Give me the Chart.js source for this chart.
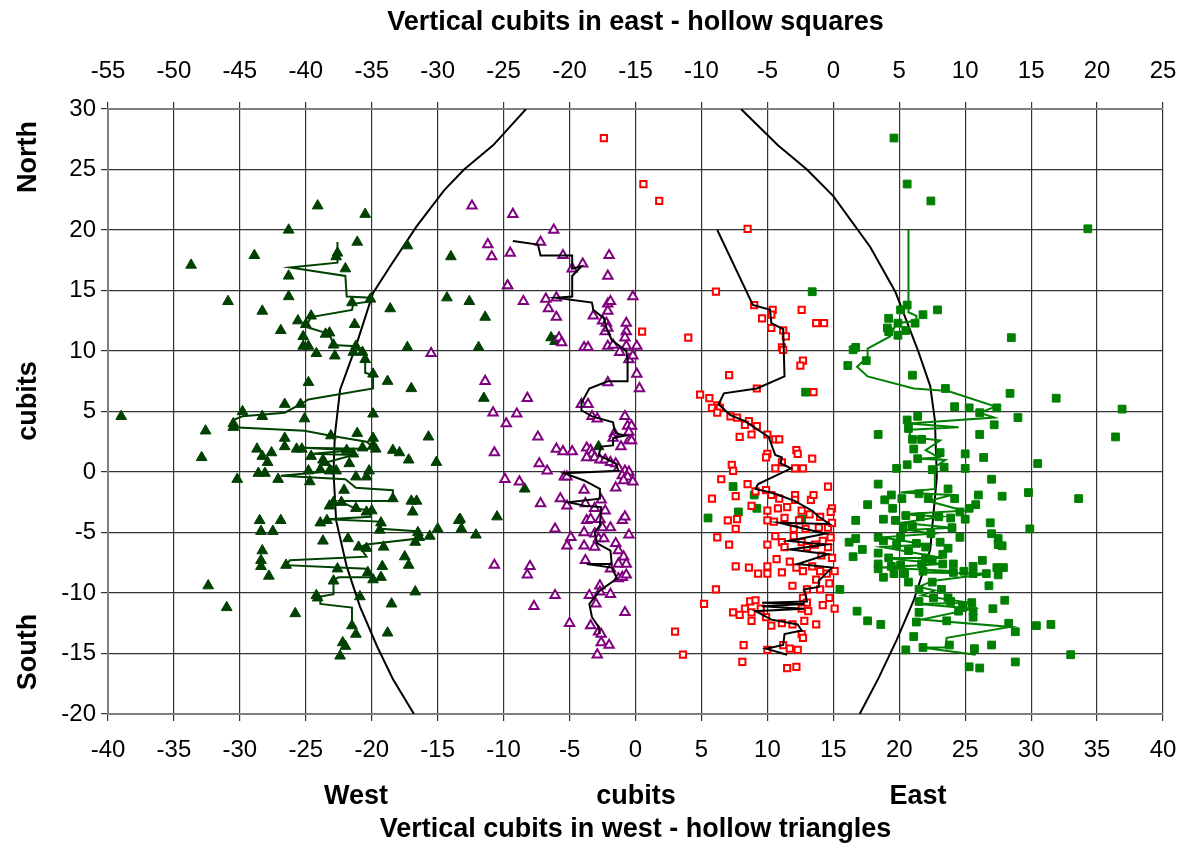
<!DOCTYPE html>
<html><head><meta charset="utf-8">
<script src="https://cdn.jsdelivr.net/npm/chart.js@4.4.1/dist/chart.umd.min.js"></script>
<style>html,body{margin:0;padding:0;background:#fff}#wrap{width:1184px;height:848px}</style>
</head><body><div id="wrap"><canvas id="c" width="1184" height="848"></canvas></div>
<script>
// ---------------- DATA ----------------
// Axis ranges / tick labels
const westAxisRange = [-40, 40];   // bottom axis (hollow triangles)
const eastAxisRange = [-55, 25];   // top axis (hollow squares)
const northSouthRange = [-20, 30];
const tickStep = 5;
const sideLabels = ['North', 'cubits', 'South'];
const bottomWords = ['West', 'cubits', 'East'];
const topTitle = 'Vertical cubits in east - hollow squares';
const bottomTitle = 'Vertical cubits in west - hollow triangles';

// Filled dark-green triangles (bottom axis x, y)
const westFilled = [
[-24.1,22.0],[-20.5,21.3],[-26.3,20.0],[-21.1,19.0],[-22.6,18.1],[-22.7,17.8],[-28.9,17.9],[-33.7,17.1],[-17.3,18.7],[-14.0,17.8],
[-22.0,16.8],[-26.3,16.2],[-26.3,14.5],[-30.9,14.1],[-20.1,14.3],[-14.3,14.4],[-28.3,13.3],[-21.5,14.0],[-18.6,13.5],[-24.6,12.9],
[-25.6,12.5],[-25.0,12.2],[-26.9,11.7],[-21.3,12.2],[-23.5,11.4],[-23.2,11.5],[-25.2,11.2],[-25.2,10.4],[-24.8,10.4],[-22.9,10.5],
[-24.2,9.8],[-22.8,9.6],[-21.2,10.4],[-21.4,9.9],[-20.7,9.9],[-20.5,9.3],[-17.3,10.3],[-19.9,8.1],[-18.8,7.5],[-17.0,6.9],
[-24.8,7.4],[-26.6,5.6],[-25.4,5.6],[-39.0,4.6],[-29.8,5.0],[-28.3,4.6],[-25.1,4.4],[-19.9,4.8],[-30.5,4.0],[-30.5,3.7],
[-32.6,3.4],[-23.1,3.0],[-21.1,3.2],[-15.7,2.9],[-26.6,2.8],[-19.9,2.8],
[-19.9,2.2],[-19.7,1.9],[-28.7,1.9],[-27.6,1.6],[-28.3,1.3],[-27.9,0.8],[-32.9,1.2],[-26.6,2.1],[-25.7,1.9],[-25.3,1.9],
[-24.6,1.3],[-23.7,1.0],[-23.6,0.8],[-21.9,1.8],[-21.4,1.5],[-21.7,0.7],[-20.7,2.0],[-18.4,1.8],[-17.9,1.6],[-17.2,1.0],
[-15.1,0.8],[-28.6,-0.1],[-28.1,-0.1],[-30.2,-0.6],[-27.1,-0.6],[-24.8,0.1],[-24.7,-0.8],[-23.9,0.2],[-23.2,0.1],[-22.7,0.1],
[-21.2,-0.4],[-20.2,0.1],[-20.4,-0.4],[-22.1,-1.5],[-18.4,-2.2],[-17.0,-2.4],[-16.6,-2.4],[-16.9,-3.3],[-23.2,-2.8],[-22.9,-2.5],
[-22.3,-2.5],[-21.2,-3.0],[-20.4,-3.3],[-20.0,-3.2],[-28.5,-4.0],[-28.4,-4.9],[-26.9,-4.0],[-27.5,-4.9],[-23.9,-4.2],[-23.4,-4.0],
[-19.3,-4.2],[-19.4,-4.8],[-16.5,-5.0],[-16.4,-5.4],[-16.7,-5.8],[-15.6,-5.3],[-15.0,-4.7],[-13.4,-4.0],[-23.7,-5.7],[-21.8,-5.5],
[-21.0,-6.2],[-20.4,-6.3],[-19.1,-6.2],[-28.3,-6.5],[-28.4,-7.3],[-28.4,-7.8],[-27.8,-8.6],[-26.5,-7.7],[-22.6,-8.0],[-19.2,-7.8],
[-17.5,-7.0],[-17.2,-7.7],[-20.3,-8.3],[-19.9,-8.9],[-19.3,-8.7],[-22.9,-9.0],[-32.4,-9.4],[-31.0,-11.2],[-25.8,-11.7],[-24.2,-10.2],
[-24.1,-10.4],[-20.9,-10.3],[-18.5,-10.9],[-16.7,-9.9],[-21.5,-12.7],[-21.2,-13.4],[-18.8,-13.3],[-22.2,-14.1],[-22.0,-14.4],[-22.4,-15.2],
[-12.6,14.1],[-11.4,12.8],[-11.9,10.3],[-11.5,6.1],[-9.7,15.4],[-6.4,11.1],[-6.1,10.8],[-8.4,-1.4],[-13.3,-3.9],[-10.5,-3.7],
[-13.2,-4.7],[-12.1,-5.2],[-2.8,2.1]
];
const westFilledTrend = [
[-22.6,19.0],[-22.6,17.3],[-26.2,16.9],[-22.0,16.2],[-21.9,14.5],[-20.1,14.4],[-20.1,14.1],[-21.4,13.9],[-21.5,13.4],[-24.6,12.8],
[-25.0,12.0],[-23.5,11.5],[-23.2,11.4],[-22.9,10.5],[-21.2,10.4],[-20.5,9.6],[-20.5,8.2],[-19.9,8.0],[-19.9,6.9],[-24.8,6.0],
[-25.4,5.6],[-26.6,4.9],[-29.8,4.6],[-30.5,4.3],[-30.5,3.7],[-25.1,3.4],[-23.1,3.0],[-20.4,2.5],[-19.7,1.9],[-25.3,2.0],
[-21.4,1.8],[-24.5,1.5],[-21.4,1.4],[-23.4,0.8],[-22.7,0.1],[-26.9,-0.3],[-22.0,-0.6],[-21.2,-1.3],[-18.4,-1.5],[-18.4,-2.4],
[-22.4,-2.4],[-21.3,-3.0],[-20.0,-3.2],[-20.1,-3.7],[-23.4,-3.9],[-19.4,-4.1],[-19.3,-4.7],[-16.6,-4.9],[-16.5,-5.5],[-20.4,-6.0],
[-20.9,-6.2],[-20.4,-7.0],[-26.2,-7.3],[-26.5,-7.7],[-20.4,-8.0],[-20.0,-8.7],[-22.5,-8.7],[-22.9,-8.9],[-22.9,-10.1],[-23.9,-10.3],
[-23.9,-10.9],[-21.5,-11.2],[-21.5,-12.7]
];

// Hollow purple triangles (bottom axis x, y)
const westHollow = [
[-12.4,22.0],[-9.3,21.3],[-6.2,20.0],[-11.2,18.8],[-10.9,17.8],[-9.5,18.1],[-7.2,19.0],[-5.5,17.9],[-4.8,16.8],[-4.0,17.2],
[-2.0,17.9],[-2.1,16.2],[-9.7,15.4],[-8.5,14.1],[-6.8,14.3],[-6.0,14.4],[-6.6,13.5],[-6.0,12.8],[-3.2,12.9],[-2.1,13.9],
[-1.9,14.1],[-2.1,13.3],[-0.2,14.5],[-2.5,12.5],[-2.2,12.3],[-2.3,11.6],[-2.1,11.9],[-0.7,12.3],[-0.7,11.6],[-0.8,11.1],
[-5.8,11.1],[-5.6,10.7],[-3.9,10.3],[-3.6,10.3],[-2.1,10.4],[-1.7,10.5],[-0.7,10.4],[0.1,10.4],[-1.2,9.9],[-0.5,9.3],
[-0.2,9.6],[-15.5,9.8],[0.1,8.1],[0.3,6.9],[-2.1,7.4],[-11.4,7.5],[-8.2,6.1],[-10.8,4.9],[-9.0,4.8],[-9.8,4.0],
[-4.1,5.6],[-3.6,5.6],[-3.3,4.6],[-2.9,4.4],[-0.8,4.6],[-0.6,3.8],[-0.3,3.8],
[-7.4,2.9],[-10.7,1.6],[-1.6,3.2],[-1.7,2.8],[-0.5,3.3],[-0.5,2.6],[-0.3,2.6],[-1.1,2.1],[-6.0,1.9],[-5.5,1.7],
[-4.8,1.7],[-3.7,2.0],[-3.4,1.8],[-3.3,1.5],[-3.7,1.2],[-3.1,1.2],[-2.7,1.0],[-2.3,1.0],[-1.9,0.8],[-1.5,0.7],
[-1.3,0.3],[-0.8,0.1],[-0.5,0.0],[-1.0,-0.3],[-0.6,-0.4],[-0.2,-0.8],[-0.9,-0.7],[-7.3,0.7],[-6.7,0.1],[-5.4,-0.4],
[-5.2,-0.4],[-9.9,-0.6],[-8.8,-0.8],[-3.9,-1.5],[-1.5,-1.3],[-2.6,-2.3],[-5.7,-2.2],[-7.2,-2.6],[-5.2,-2.8],[-3.8,-2.6],
[-3.1,-3.0],[-2.3,-3.2],[-2.7,-3.9],[-3.7,-4.0],[-3.4,-3.9],[-1.0,-4.0],[-0.8,-3.7],[-2.5,-4.6],[-1.9,-4.6],[-3.9,-5.0],
[-3.1,-5.1],[-2.8,-5.5],[-2.4,-5.5],[-3.1,-6.2],[-3.9,-6.1],[-0.5,-5.2],[-1.5,-5.9],[-1.3,-6.5],[-0.9,-7.0],[-0.7,-7.6],
[-1.3,-7.6],[-1.9,-8.0],[-3.8,-7.3],[-6.1,-4.7],[-4.9,-5.4],[-5.2,-6.1],[-1.3,-8.8],[-1.0,-8.7],[-0.7,-8.5],[-2.7,-9.4],
[-2.7,-9.9],[-1.9,-10.1],[-3.5,-10.2],[-3.0,-10.9],[-0.8,-11.6],[-10.7,-7.7],[-8.0,-7.8],[-8.2,-8.5],[-6.1,-10.2],[-7.7,-11.1],
[-5.0,-12.5],[-3.4,-12.7],[-2.8,-13.2],[-2.6,-13.4],[-2.6,-14.1],[-2.0,-14.3],[-2.9,-15.1]
];
const westHollowTrend = [
[-9.3,19.1],[-7.4,18.8],[-7.2,17.9],[-4.8,17.9],[-4.8,16.8],[-4.1,17.0],[-4.8,16.2],[-4.8,14.5],[-6.0,14.4],[-3.3,14.0],
[-3.2,13.4],[-2.4,12.7],[-2.2,11.9],[-1.8,10.9],[-1.3,10.5],[-0.7,10.0],[-0.6,9.3],[-0.6,7.5],[-2.1,7.5],[-3.5,6.9],
[-4.1,5.7],[-4.1,5.1],[-3.3,4.6],[-1.7,4.1],[-1.6,3.5],[-1.5,3.2],[-0.8,3.0],[-1.7,2.8],[-1.7,2.2],[-2.6,2.1],
[-2.8,1.4],[-1.5,0.7],[-1.3,0.1],[-5.4,-0.1],[-3.9,-0.7],[-2.7,-1.4],[-2.7,-2.2],[-5.1,-2.5],[-3.8,-2.8],[-2.6,-2.9],
[-2.7,-4.4],[-3.1,-5.0],[-2.9,-5.9],[-1.9,-6.5],[-1.8,-7.6],[-3.7,-7.6],[-1.8,-7.9],[-1.4,-8.8],[-2.7,-9.8],[-3.5,-10.9],
[-3.3,-12.0],[-2.8,-12.8],[-2.7,-13.4]
];

// Hollow red squares (top axis x, y)
const eastHollow = [
[-17.4,27.6],[-14.4,23.8],[-13.2,22.4],[-6.5,20.1],[-8.9,14.9],[-14.5,11.6],[-11.0,11.1],[-6.0,13.8],[-4.6,13.4],[-4.7,13.0],
[-5.4,12.7],[-4.7,11.9],[-2.4,13.4],[-1.3,12.3],[-0.7,12.3],[-3.8,11.7],[-3.6,11.2],[-3.9,10.3],[-3.8,10.1],[-2.3,9.2],
[-2.5,8.8],[-1.5,6.6],[-5.8,6.9],[-7.9,8.0],[-10.1,6.4],[-9.4,6.1],[-8.8,5.5],[-9.2,5.3],[-8.6,5.3],[-8.8,4.9],
[-7.8,4.6],[-7.3,4.5],[-6.4,4.2],
[-6.7,3.9],[-5.8,3.8],[-6.2,3.1],[-7.1,2.9],[-5.0,3.1],[-4.4,2.7],[-4.1,2.7],[-2.8,1.8],[-2.7,1.5],[-1.6,1.1],
[-5.0,1.5],[-5.1,1.2],[-3.9,0.8],[-4.4,0.3],[-2.9,0.3],[-2.3,0.3],[-7.7,0.6],[-7.6,0.1],[-8.5,-0.6],[-6.5,-1.0],
[-5.9,-1.6],[-5.1,-1.5],[-4.7,-1.9],[-4.1,-2.2],[-2.9,-1.9],[-2.9,-2.3],[-1.7,-2.3],[-1.5,-1.9],[-0.4,-1.2],[-7.4,-2.0],
[-9.2,-2.2],[-6.2,-2.8],[-5.0,-3.2],[-4.2,-3.0],[-3.5,-2.9],[-2.4,-3.2],[-1.8,-3.5],[-1.0,-3.7],[-0.1,-3.0],[-0.2,-3.3],
[-8.0,-4.0],[-7.3,-3.9],[-7.4,-4.7],[-5.0,-4.0],[-4.5,-4.1],[-3.7,-3.8],[-3.0,-4.7],[-2.6,-4.0],[-2.1,-4.7],[-1.1,-4.6],
[-0.4,-4.6],[-0.1,-4.2],[-8.8,-5.4],[-7.9,-6.0],[-5.0,-6.0],[-4.4,-5.3],[-3.9,-5.8],[-3.7,-6.2],[-3.0,-5.3],[-2.4,-5.8],
[-2.0,-6.2],[-1.4,-6.0],[-0.8,-5.7],[-0.2,-5.4],[-0.4,-6.2],[-0.9,-6.9],[-0.1,-7.1],[-4.3,-7.2],[-3.3,-7.4],[-2.8,-7.9],
[-2.3,-8.2],[-1.6,-7.8],[-1.0,-8.2],[-0.5,-8.4],[0.1,-8.2],[-7.4,-7.8],[-6.4,-7.9],[-5.7,-8.4],[-5.0,-8.4],[-5.0,-7.8],
[-3.9,-8.3],[-1.3,-8.9],[-0.3,-9.2],[-1.0,-9.7],[-3.1,-9.4],[-8.9,-9.7],[-2.0,-9.7],[-2.3,-10.4],[-2.0,-10.8],[-0.8,-11.0],
[-0.3,-10.4],[0.1,-11.3],[-9.8,-10.9],[-6.3,-10.7],[-5.9,-10.6],[-6.7,-11.3],[-7.6,-11.6],[-7.1,-11.8],[-6.2,-11.6],[-6.2,-12.3],
[-5.5,-11.3],[-5.1,-12.0],[-4.7,-12.7],[-3.9,-12.5],[-3.1,-12.6],[-2.4,-11.3],[-1.9,-11.5],[-2.2,-12.3],[-1.3,-12.6],[-2.4,-13.4],
[-2.3,-13.7],[-12.0,-13.2],[-11.4,-15.1],[-6.8,-14.3],[-6.9,-15.7],[-5.0,-14.7],[-3.8,-14.3],[-3.3,-14.6],[-2.7,-14.7],[-3.5,-16.2],
[-2.8,-16.1]
];
const eastHollowTrend = [
[-8.8,20.0],[-6.1,13.8],[-4.8,13.4],[-4.7,12.3],[-3.8,11.8],[-3.7,7.9],[-5.8,6.9],[-8.3,6.5],[-8.7,5.6],[-7.8,4.7],
[-6.7,4.2],[-4.9,2.9],[-4.4,1.4],[-3.9,1.2],[-4.0,0.7],[-3.2,0.3],[-5.7,-1.0],[-5.9,-1.4],[-4.4,-1.8],[-2.9,-2.4],
[-1.6,-3.2],[-1.1,-3.7],[-0.3,-4.3],[-4.1,-4.2],[-0.6,-5.1],[-3.4,-5.7],[-0.6,-6.0],[-3.3,-6.4],[-0.4,-6.8],[-2.7,-7.6],
[-0.1,-7.9],[-1.1,-9.0],[-1.1,-9.5],[-2.2,-9.7],[-2.0,-10.7],[-5.4,-10.8],[-2.2,-10.9],[-5.4,-11.1],[-2.2,-11.3],[-5.9,-11.5],
[-4.7,-12.2],[-2.7,-12.6],[-2.4,-13.1],[-3.7,-13.4],[-3.8,-14.3],[-5.1,-14.6],[-3.5,-15.1]
];

// Filled green squares (top axis x, y)
const eastFilled = [
[4.6,27.6],[5.6,23.8],[7.4,22.4],[19.3,20.1],[5.6,13.8],[5.1,13.4],[6.8,13.0],[7.9,13.4],[4.2,12.7],[4.9,12.3],
[6.2,12.3],[4.1,11.9],[4.2,11.6],[5.5,11.7],[4.9,11.3],[13.5,11.1],[1.7,10.3],[1.5,10.1],[2.5,9.2],[1.1,8.8],
[6.0,8.0],[8.5,6.9],[13.4,6.5],[16.9,6.1],[9.2,5.4],[10.3,5.3],[11.1,4.9],[12.4,5.3],[14.0,4.5],[21.9,5.2],
[5.6,4.3],[6.4,4.6],
[-1.6,14.9],[-2.1,6.6],[-7.6,-1.2],[-6.0,-1.9],[-5.8,-3.0],[-7.2,-3.3],[-9.5,-3.8],[-2.4,-3.9],
[12.2,3.9],[11.1,3.1],[21.4,2.9],[3.4,3.1],[5.7,3.6],[6.0,2.7],[6.7,2.7],[6.1,1.9],[6.4,1.1],[8.1,1.6],
[10.0,1.5],[11.4,1.2],[15.5,0.7],[4.8,0.3],[5.6,0.6],[7.5,0.2],[8.4,0.4],[10.0,0.3],[12.0,-0.6],[3.4,-1.0],
[8.7,-1.4],[11.0,-1.9],[12.8,-2.0],[14.8,-1.7],[18.6,-2.2],[4.4,-1.9],[3.9,-2.3],[5.2,-2.2],[6.5,-1.8],[2.6,-2.7],
[4.5,-3.0],[7.2,-2.2],[9.2,-2.2],[10.8,-2.7],[10.3,-3.0],[10.0,-3.9],[9.6,-3.3],[1.7,-4.0],[3.8,-3.9],[4.7,-4.0],
[5.5,-3.6],[6.6,-3.7],[8.0,-3.7],[8.9,-3.8],[11.9,-4.2],[5.3,-4.6],[6.0,-4.5],[9.0,-4.6],[7.4,-5.1],[9.6,-5.4],
[12.0,-5.1],[14.9,-4.7],[1.2,-5.8],[1.7,-5.5],[3.4,-5.4],[3.8,-5.7],[4.8,-6.0],[5.1,-5.4],[6.3,-5.9],[7.0,-6.2],
[8.1,-5.8],[8.7,-6.3],[12.5,-5.5],[12.5,-6.0],[12.8,-6.1],[2.2,-6.4],[1.5,-7.0],[3.4,-6.7],[4.2,-7.1],[5.7,-6.5],
[7.0,-7.1],[7.5,-7.3],[8.3,-6.8],[8.3,-7.6],[3.4,-7.6],[3.4,-8.0],[4.4,-7.8],[5.1,-7.7],[6.7,-7.6],[9.1,-7.6],
[10.6,-7.8],[11.3,-7.3],[12.4,-7.9],[12.9,-7.9],[3.8,-8.7],[4.6,-8.4],[5.4,-8.4],[6.8,-8.2],[9.1,-8.3],[9.9,-8.2],
[10.6,-8.4],[11.6,-8.4],[12.5,-8.5],[5.7,-9.1],[7.5,-9.1],[11.8,-9.4],[0.5,-9.7],[6.5,-9.7],[8.2,-9.7],[7.6,-10.4],
[8.7,-10.4],[8.9,-10.7],[13.0,-10.6],[6.5,-10.7],[10.5,-10.8],[9.8,-11.2],[9.5,-11.5],[10.6,-11.5],[12.1,-11.3],[1.8,-11.5],
[6.5,-11.6],[6.3,-12.4],[8.6,-12.3],[10.6,-12.0],[2.6,-12.3],[3.6,-12.6],[13.3,-12.5],[13.8,-13.2],[15.4,-12.7],[16.5,-12.6],
[6.1,-13.6],[12.0,-14.3],[5.5,-14.7],[6.8,-14.5],[8.8,-14.3],[10.7,-14.6],[18.0,-15.1],[13.8,-15.7],[10.3,-16.1],[11.1,-16.2]
];
const eastFilledTrend = [
[5.7,20.0],[5.7,14.0],[5.7,13.2],[6.3,12.9],[6.3,12.5],[4.8,12.3],[4.3,11.2],[2.6,10.2],[2.6,9.5],[1.8,8.7],
[2.6,7.9],[6.1,6.9],[8.7,6.7],[12.3,5.4],[11.1,4.9],[12.2,4.5],[5.7,4.0],[9.5,3.7],[5.8,3.5],[5.8,2.9],
[8.1,2.6],[7.0,1.8],[8.0,1.2],[6.5,1.1],[8.5,1.0],[7.7,0.4],[7.7,-1.4],[5.1,-1.7],[9.0,-1.9],[7.2,-2.4],
[9.9,-3.2],[5.2,-3.5],[8.2,-3.7],[5.2,-4.2],[9.0,-4.6],[5.7,-4.8],[7.5,-5.1],[3.7,-5.4],[7.0,-6.0],[3.7,-6.2],
[8.3,-7.1],[3.9,-7.1],[8.3,-7.6],[3.7,-7.9],[9.3,-8.2],[6.7,-8.3],[11.8,-8.4],[7.5,-9.0],[6.5,-9.5],[7.7,-9.8],
[6.7,-10.2],[10.3,-10.8],[6.5,-10.9],[10.6,-11.3],[6.7,-12.2],[13.4,-12.8],[8.6,-13.7],[8.5,-14.5],[6.7,-14.5],[10.8,-15.1]
];

// Boundary curve (bottom axis x, y)
const boundaryWest = [
[-8.3,30],[-10.8,27],[-13.0,25],[-14.5,23.3],[-16.6,20.3],[-18.6,17],[-19.9,14.8],[-21.2,10.4],[-22.4,6.8],[-22.8,3],
[-22.9,0],[-22.7,-4],[-21.9,-7.8],[-20.9,-11.1],[-19.6,-14.4],[-18.4,-17.1],[-16.8,-20]
];
const boundaryEast = [
[8.0,30],[10.8,27],[13.0,25],[15.0,22.8],[17.8,18.6],[19.7,14.9],[21.4,10.1],[22.35,7.1],[22.7,4.3],[22.85,-0.4],
[22.35,-6.4],[21.1,-10.6],[19.8,-13.9],[18.4,-17.1],[17.0,-20]
];

// ---------------- CHART ----------------
const FONT = '"Liberation Sans", Arial, Helvetica, sans-serif';
const pts = a => a.map(p => ({x: p[0], y: p[1]}));
const GRID = '#333333';

function lineDs(data, color, axis) {
  return {data: pts(data), xAxisID: axis, showLine: true, borderColor: color, borderWidth: 2,
    pointRadius: 0, fill: false, tension: 0};
}

const textPlugin = {
  id: 'extraText',
  afterDraw(chart) {
    const ctx = chart.ctx;
    ctx.save();
    ctx.fillStyle = '#000';
    ctx.font = 'bold 27px ' + FONT;
    ctx.textAlign = 'center';
    ctx.textBaseline = 'middle';
    const sideY = [157, 401, 652];
    sideLabels.forEach((t, i) => {
      ctx.save();
      ctx.translate(29, sideY[i]);
      ctx.rotate(-Math.PI / 2);
      ctx.fillText(t, 0, 0);
      ctx.restore();
    });
    const bottomX = [356, 636, 918];
    bottomWords.forEach((t, i) => ctx.fillText(t, bottomX[i], 797));
    ctx.restore();
  }
};

function fitH(h) {
  return function (s) { s.height = h; s.paddingLeft = 0; s.paddingRight = 0; };
}

new Chart(document.getElementById('c'), {
  type: 'scatter',
  data: {
    datasets: [
      lineDs(eastHollowTrend, '#000', 'x2'),
      lineDs(westHollowTrend, '#000', 'x'),
      lineDs(eastFilledTrend, '#008000', 'x2'),
      lineDs(westFilledTrend, '#004000', 'x'),
      {data: pts(eastHollow), xAxisID: 'x2', pointStyle: 'rect', pointRadius: 4.4,
        backgroundColor: '#fff', borderColor: '#ff0000', borderWidth: 2},
      {data: pts(westHollow), xAxisID: 'x', pointStyle: 'triangle', pointRadius: 5.4,
        backgroundColor: '#fff', borderColor: '#800080', borderWidth: 2},
      {data: pts(eastFilled), xAxisID: 'x2', pointStyle: 'rect', pointRadius: 5.5,
        backgroundColor: '#008000', borderColor: '#008000', borderWidth: 1},
      {data: pts(westFilled), xAxisID: 'x', pointStyle: 'triangle', pointRadius: 6.2,
        backgroundColor: '#004000', borderColor: '#004000', borderWidth: 1},
      lineDs(boundaryWest, '#000', 'x'),
      lineDs(boundaryEast, '#000', 'x')
    ]
  },
  options: {
    responsive: false,
    animation: false,
    devicePixelRatio: 1,
    events: [],
    layout: {padding: {left: 0, right: 21, top: 0, bottom: 0}},
    plugins: {legend: {display: false}, tooltip: {enabled: false}},
    scales: {
      x: {
        type: 'linear', position: 'bottom', min: westAxisRange[0], max: westAxisRange[1],
        ticks: {stepSize: tickStep, color: '#000', font: {family: FONT, size: 24}, padding: 15,
          autoSkip: false, maxRotation: 0},
        grid: {color: GRID, lineWidth: 1.2, tickLength: 7, tickColor: GRID},
        border: {display: true, color: '#808080', width: 2},
        title: {display: true, text: bottomTitle, color: '#000',
          font: {family: FONT, size: 27, weight: 'bold'}, padding: {top: 0, bottom: 2}},
        afterFit: fitH(134)
      },
      x2: {
        type: 'linear', position: 'top', min: eastAxisRange[0], max: eastAxisRange[1],
        ticks: {stepSize: tickStep, color: '#000', font: {family: FONT, size: 24}, padding: 16,
          autoSkip: false, maxRotation: 0},
        grid: {drawOnChartArea: false, tickLength: 7, color: GRID, tickColor: GRID, lineWidth: 1.2},
        border: {display: true, color: '#808080', width: 2},
        title: {display: true, text: topTitle, color: '#000',
          font: {family: FONT, size: 27, weight: 'bold'}, padding: {top: 6, bottom: 0}},
        afterFit: fitH(109)
      },
      y: {
        type: 'linear', position: 'left', min: northSouthRange[0], max: northSouthRange[1],
        ticks: {stepSize: tickStep, color: '#000', font: {family: FONT, size: 24}, padding: 5},
        grid: {color: GRID, lineWidth: 1.2, tickLength: 7, tickColor: GRID},
        border: {display: true, color: '#808080', width: 2},
        afterFit(s) { s.width = 108; s.paddingTop = 0; s.paddingBottom = 0; }
      }
    }
  },
  plugins: [textPlugin]
});
</script>
</body></html>
